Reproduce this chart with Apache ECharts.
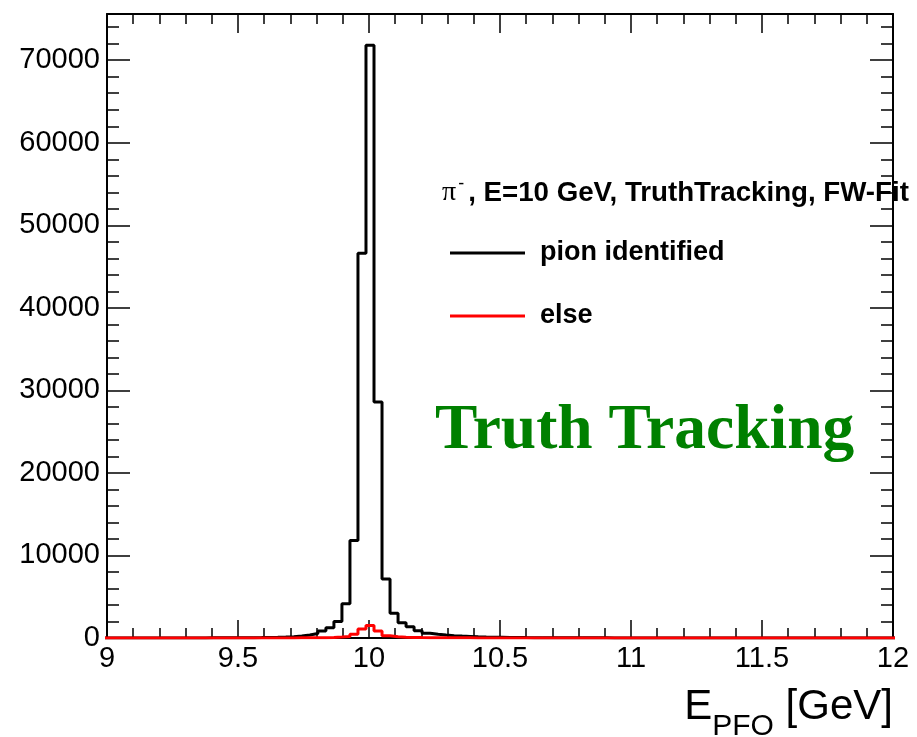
<!DOCTYPE html>
<html>
<head>
<meta charset="utf-8">
<script src="https://cdn.jsdelivr.net/npm/echarts@6/dist/echarts.min.js"></script>
<style>html,body{margin:0;padding:0;background:#fff;}#c{width:917px;height:737px;}</style>
</head>
<body>
<div id="c"></div>
<script>
// Histogram definition (bin width and first bin edge, GeV)
const binWidth = 0.0306;
const firstEdge = 8.9787;
// Counts per bin, pion identified (black)
const pionCounts = [
  2,3,3,4,5,5,6,7,8,10,
  11,13,15,18,21,25,30,36,45,55,
  70,90,120,160,250,370,550,850,1250,2000,4150,11800,46600,
  71800,28600,7150,3000,1850,1350,880,580,450,360,
  280,230,190,150,120,100,85,70,60,50,
  45,40,36,32,28,25,22,20,18,16,
  15,14,13,12,11,10,9,9,8,8,
  7,7,6,6,6,5,5,5,4,4,
  4,4,3,3,3,3,3,2,2,2,
  2,2,2,2,2,2
];
// Counts per bin, else (red)
const elseCounts = [
  1,1,1,1,1,2,2,2,2,2,
  3,3,3,4,4,5,5,6,7,8,
  9,10,12,14,17,20,30,45,70,110,180,450,1100,
  1500,850,270,140,95,70,50,40,30,25,
  20,18,16,14,12,11,10,9,8,7,
  7,6,6,5,5,5,4,4,4,3,
  3,3,3,3,2,2,2,2,2,2,
  2,2,2,1,1,1,1,1,1,1,
  1,1,1,1,1,1,1,1,1,1,
  1,1,1,1,1,1
];
const seriesNames = ['pion identified', 'else'];
const xTickLabelsRange = [9, 12];
const yRange = [0, 75600];

function histLine(counts) {
  const pts = counts.map((c, i) => [firstEdge + i * binWidth, c]);
  pts.push([firstEdge + counts.length * binWidth, counts[counts.length - 1]]);
  return pts;
}

const chart = echarts.init(document.getElementById('c'), null, {renderer: 'canvas'});
const F = 'Liberation Sans, Arial, Helvetica, sans-serif';
const tickStyle = {color: '#000', width: 1.5};
function xAx(pos, major, minor, labels) {
  return {
    type: 'value', position: pos, min: xTickLabelsRange[0], max: xTickLabelsRange[1], interval: 0.5,
    axisLine: {show: true, onZero: false, lineStyle: {color: '#000', width: 2}},
    axisTick: {show: true, inside: true, length: major, lineStyle: tickStyle},
    minorTick: {show: true, splitNumber: 5, length: minor, lineStyle: tickStyle},
    axisLabel: {show: labels, fontSize: 29, fontFamily: F, color: '#000', margin: 6},
    splitLine: {show: false}, minorSplitLine: {show: false}
  };
}
function yAx(pos, interval, len, line, labels) {
  return {
    type: 'value', position: pos, min: yRange[0], max: yRange[1], interval: interval,
    axisLine: {show: line, onZero: false, lineStyle: {color: '#000', width: 2}},
    axisTick: {show: true, inside: true, length: len, lineStyle: tickStyle},
    axisLabel: {show: labels, fontSize: 29, fontFamily: F, color: '#000', margin: 7, showMaxLabel: false,
      formatter: v => String(v)},
    splitLine: {show: false}
  };
}

chart.setOption({
  animation: false,
  backgroundColor: '#fff',
  grid: {left: 107, right: 24, top: 14, bottom: 99, containLabel: false},
  xAxis: [xAx('bottom', 18, 10, true), xAx('top', 19, 10, false)],
  yAxis: [
    yAx('left', 10000, 23, true, true),
    yAx('left', 2000, 12, false, false),
    yAx('right', 10000, 23, true, false),
    yAx('right', 2000, 12, false, false)
  ],
  legend: {
    data: seriesNames, orient: 'vertical', left: 450, top: 238, padding: 0,
    itemWidth: 75, itemHeight: 3, itemGap: 33, icon: 'rect', selectedMode: false,
    textStyle: {fontFamily: F, fontWeight: 'bold', fontSize: 27, color: '#000', lineHeight: 30, padding: [0, 0, 0, 10]}
  },
  series: [
    {
      name: seriesNames[0], type: 'line', step: 'end', symbol: 'none', clip: true,
      xAxisIndex: 0, yAxisIndex: 0, color: '#000',
      lineStyle: {color: '#000', width: 3}, itemStyle: {color: '#000'},
      data: histLine(pionCounts), z: 2
    },
    {
      name: seriesNames[1], type: 'line', step: 'end', symbol: 'none', clip: true,
      xAxisIndex: 0, yAxisIndex: 0, color: '#ff0000',
      lineStyle: {color: '#ff0000', width: 3}, itemStyle: {color: '#ff0000'},
      data: histLine(elseCounts), z: 3
    }
  ],
  graphic: [
    {
      type: 'text', left: 442, top: 175, z: 10,
      style: {
        text: '{pi|π}{sup|-}{b|, E=10 GeV, TruthTracking, FW-Fit}',
        rich: {
          pi: {fontFamily: 'Liberation Serif, Times New Roman, serif', fontSize: 28, lineHeight: 36, verticalAlign: 'middle', fill: '#000'},
          sup: {fontFamily: F, fontSize: 18, lineHeight: 36, verticalAlign: 'top', fill: '#000', padding: [0, 4, 0, 2]},
          b: {fontFamily: F, fontWeight: 'bold', fontSize: 27.7, lineHeight: 36, verticalAlign: 'middle', fill: '#000'}
        }
      }
    },
    {
      type: 'text', x: 435, y: 432, z: 10,
      style: {text: 'Truth Tracking', fontFamily: 'Liberation Serif, Times New Roman, serif', fontWeight: 'bold', fontSize: 63.5, fill: '#008000', verticalAlign: 'middle', align: 'left'}
    },
    {
      type: 'text', x: 893, y: 672, z: 10,
      style: {
        text: '{m|E}{s|PFO}{m| [GeV]}', align: 'right', verticalAlign: 'top',
        rich: {
          m: {fontFamily: F, fontSize: 42, lineHeight: 70, verticalAlign: 'middle', fill: '#000'},
          s: {fontFamily: F, fontSize: 30, lineHeight: 70, verticalAlign: 'bottom', fill: '#000'}
        }
      }
    }
  ]
});
</script>
</body>
</html>
